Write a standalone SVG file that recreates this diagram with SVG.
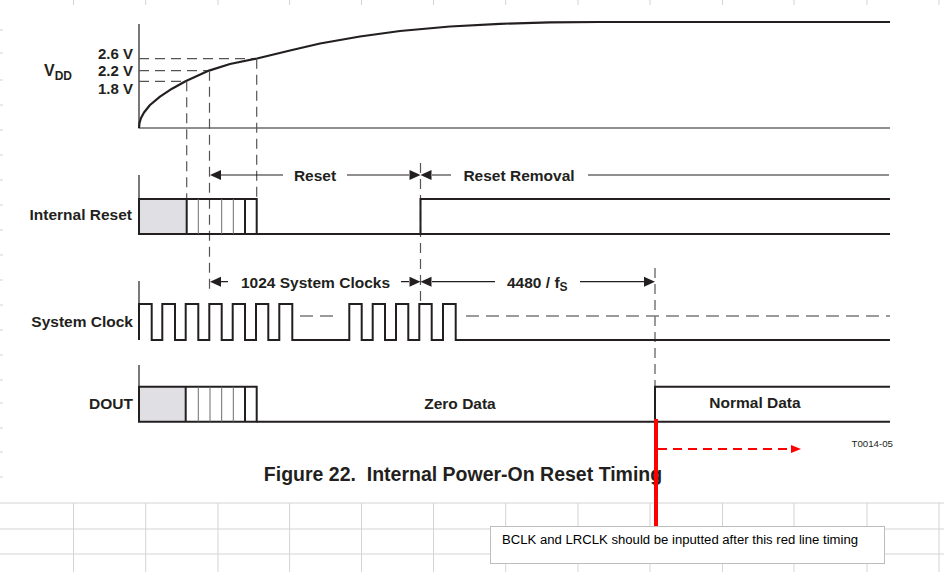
<svg xmlns="http://www.w3.org/2000/svg" width="944" height="572" viewBox="0 0 944 572">
<style>
.t{font-family:"Liberation Sans",Arial,sans-serif;font-weight:bold;fill:#231f20}
.w{fill:none;stroke:#231f20;stroke-width:2}
.thin{fill:none;stroke:#231f20;stroke-width:1.2}
.gl{fill:none;stroke:#6d6d6d;stroke-width:1}
.dsh{fill:none;stroke:#555;stroke-width:1.2;stroke-dasharray:10 6}
.cd{fill:none;stroke:#7a7a7a;stroke-width:1.3;stroke-dasharray:13 7}
.ah{fill:#231f20}
.grid{stroke:#d3d3d3;stroke-width:1}
</style>
<rect width="944" height="572" fill="#fff"/>
<g id="grid">
<path class="grid" d="M0,503H944M0,529H944M0,554H944"/>
<path class="grid" d="M73.5,503V572M145.7,503V572M218,503V572M289.6,503V572M361.5,503V572M433.5,503V572M505.7,503V572M578,503V572M650,503V572M722.5,503V572M794,503V572M867,503V572M939,503V572"/>
<path class="grid" d="M73.5,0V5M145.7,0V5M218,0V5M289.6,0V5M361.5,0V5M433.5,0V5M505.7,0V5M578,0V5M650,0V5M722.5,0V5M794,0V5M867,0V5M939,0V5"/>
<path class="grid" d="M0,30H3M0,53H3M0,80H3M0,105H3M0,130H3M0,155H3M0,180H3M0,205H3M0,230H3M0,255H3M0,280H3M0,305H3M0,330H3M0,355H3M0,380H3M0,403H3M0,428H3M0,452H3M0,477H3"/>
</g>
<g id="vdd">
<text class="t" x="44" y="76" font-size="16">V<tspan font-size="12" dy="4">DD</tspan></text>
<text class="t" x="133" y="59" font-size="15" text-anchor="end">2.6 V</text>
<text class="t" x="133" y="76" font-size="15" text-anchor="end">2.2 V</text>
<text class="t" x="133" y="94" font-size="15" text-anchor="end">1.8 V</text>
<path class="thin" d="M139,24V128H890"/>
<path class="dsh" d="M139,58.7H257M139,70.7H209M139,81.3H186.7"/>
<polyline fill="none" stroke="#231f20" stroke-width="2.2" stroke-linejoin="round" points="139,128 139.5,123 141,118 144,112.5 150,105 160,96.6 172,88.7 186,81 209,70.6 230,64 257,58.5 290,50.5 320,43.5 360,36.5 400,31 450,26.5 500,23.8 550,22.4 600,22 890,22"/>
</g>
<g id="guides">
<path class="dsh" d="M186.7,81.3V199M256.7,58.7V199M209.5,70.7V290M420.5,163V305M655,268V387"/>
</g>
<g id="internal-reset">
<text class="t" x="132" y="220" font-size="15.5" text-anchor="end">Internal Reset</text>
<path class="thin" d="M139,175V199"/>
<rect x="139" y="199" width="47.5" height="35" fill="#e0e0e4"/>
<path class="w" d="M139,199H256.7V234H139ZM186.7,199V234M245,199V234"/>
<path class="gl" d="M198.3,199V234M221.7,199V234M233.3,199V234"/>
<path class="w" d="M256.7,234H890M420.5,234V199H890"/>
</g>
<g id="system-clock">
<text class="t" x="133" y="327" font-size="15.5" text-anchor="end">System Clock</text>
<path class="thin" d="M139,281V304"/>
<path class="w" d="M139,340V304H151.7V340H162.3V304H175V340H185.7V304H198.3V340H209.3V304H221.7V340H232.7V304H245V340H256V304H268.3V340H279.3V304H292.3V340H349.3V304H361.7V340H372.7V304H385V340H396V304H408.3V340H419.3V304H431.7V340H443V304H455.7V340H890"/>
<path class="cd" d="M300,316H340M466,316H890"/>
</g>
<g id="dout">
<text class="t" x="133" y="409" font-size="15.5" text-anchor="end">DOUT</text>
<path class="thin" d="M139,365V387"/>
<rect x="139" y="386.7" width="46.7" height="35" fill="#e0e0e4"/>
<path class="w" d="M139,386.7H256.7V421.7H139ZM185.7,386.7V421.7M245,386.7V421.7"/>
<path class="gl" d="M198.3,386.7V421.7M210,386.7V421.7M221.7,386.7V421.7M233.3,386.7V421.7"/>
<path class="w" d="M256.7,421.7H890M655,421.7V386.7H890"/>
<text class="t" x="460" y="409" font-size="15.5" text-anchor="middle">Zero Data</text>
<text class="t" x="755" y="408" font-size="15.5" text-anchor="middle">Normal Data</text>
</g>
<g id="connectors">
<path class="thin" d="M221,175H283M347,175H409M432,175H451M588,175H889"/>
<polygon class="ah" points="210,175 221,170 221,180"/>
<polygon class="ah" points="420.5,175 409.5,170 409.5,180"/>
<polygon class="ah" points="420.5,175 431.5,170 431.5,180"/>
<text class="t" x="315" y="180.5" font-size="15.5" text-anchor="middle">Reset</text>
<text class="t" x="519" y="180.5" font-size="15.5" text-anchor="middle">Reset Removal</text>
<path class="thin" d="M221,281.7H228M401,281.7H409M432,281.7H495M580,281.7H644"/>
<polygon class="ah" points="210,281.7 221,276.7 221,286.7"/>
<polygon class="ah" points="420.5,281.7 409.5,276.7 409.5,286.7"/>
<polygon class="ah" points="420.5,281.7 431.5,276.7 431.5,286.7"/>
<polygon class="ah" points="655,281.7 644,276.7 644,286.7"/>
<text class="t" x="315.5" y="287.5" font-size="15.5" text-anchor="middle">1024 System Clocks</text>
<text class="t" x="507" y="287.5" font-size="15.5">4480 / f<tspan font-size="12" dy="3">S</tspan></text>
</g>
<text x="893" y="447" font-family="Liberation Sans,Arial,sans-serif" font-size="9.7" fill="#231f20" text-anchor="end">T0014-05</text>
<text class="t" x="463" y="481" font-size="19.5" text-anchor="middle" xml:space="preserve">Figure 22.  Internal Power-On Reset Timing</text>
<g id="annotation">
<path d="M656,419V526" stroke="#ff0000" stroke-width="4"/>
<path d="M658,449H792" stroke="#ff0000" stroke-width="2" stroke-dasharray="9 6" fill="none"/>
<polygon points="801,449 791,445 791,453" fill="#ff0000"/>
<rect x="490.5" y="526.5" width="394" height="37" fill="#fff" stroke="#bdbdbd"/>
<text x="502" y="544" font-family="Liberation Sans Narrow,Liberation Sans,Arial,sans-serif" font-size="12" fill="#000" textLength="356" lengthAdjust="spacingAndGlyphs">BCLK and LRCLK should be inputted after this red line timing</text>
</g>
</svg>
